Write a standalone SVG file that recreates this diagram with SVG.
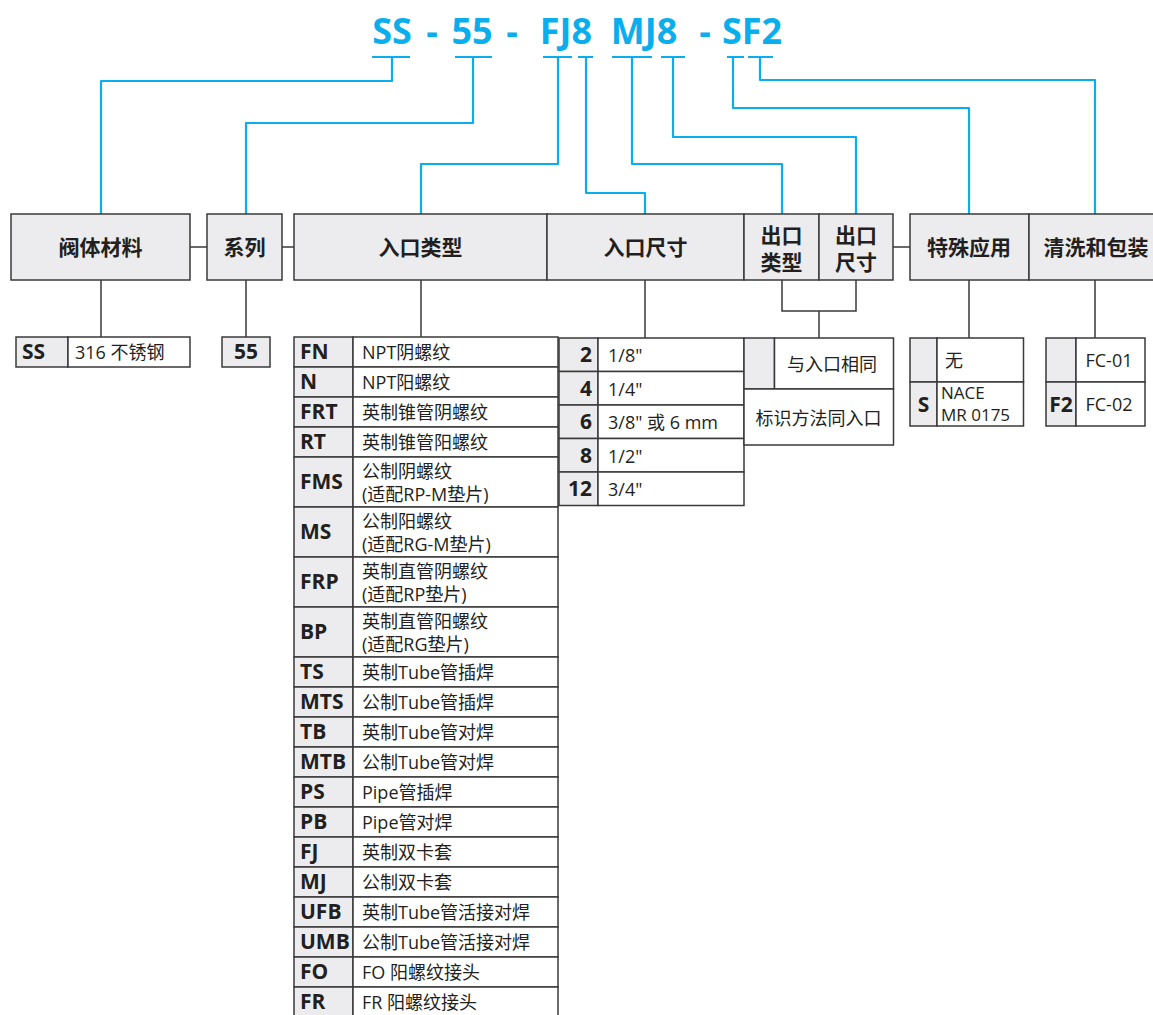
<svg xmlns="http://www.w3.org/2000/svg" width="1153" height="1015" viewBox="0 0 1153 1015">
<style>
.hdr{fill:#ECECEE;stroke:#3a3a3a;stroke-width:1.5}
.g{fill:#ECECEE;stroke:#3a3a3a;stroke-width:1.5}
.w{fill:#FFFFFF;stroke:#3a3a3a;stroke-width:1.5}
.ln{fill:none;stroke:#3a3a3a;stroke-width:1.5}
.bl{fill:none;stroke:#0AAEEC;stroke-width:2.2;stroke-linejoin:round}
.t{font-family:"Open Sans","Noto Sans CJK SC",sans-serif;fill:#0AAEEC;font-weight:bold;font-size:36px;text-anchor:middle}
.h{font-family:"Open Sans","Noto Sans CJK SC",sans-serif;fill:#231F20;font-weight:bold;font-size:21px;text-anchor:middle}
.c{font-family:"Open Sans","Noto Sans CJK SC",sans-serif;fill:#231F20;font-weight:bold;font-size:21px}
.d{font-family:"Open Sans","Noto Sans CJK SC",sans-serif;fill:#231F20;font-size:18px}
.s{font-size:17px}
.m{text-anchor:middle}
.e{text-anchor:end}
</style>
<rect width="1153" height="1015" fill="#FFFFFF"/>
<g id="title">
<text class="t" x="392" y="44">SS</text>
<text class="t" x="432" y="44">-</text>
<text class="t" x="472" y="44">55</text>
<text class="t" x="512" y="44">-</text>
<text class="t" x="566" y="44">FJ8</text>
<text class="t" x="644" y="44">MJ8</text>
<text class="t" x="705" y="44">-</text>
<text class="t" x="752" y="44">SF2</text>
</g>
<g id="connectors">
<path class="bl" d="M372 57H410M392 57V81H101V214"/>
<path class="bl" d="M455 57H492M473 57V123H246V214"/>
<path class="bl" d="M543 57H572M558 57V164H421V214"/>
<path class="bl" d="M578 57H593M586 57V193H645V214"/>
<path class="bl" d="M612 57H652M632 57V164H782V214"/>
<path class="bl" d="M661 57H685M673 57V137H856V214"/>
<path class="bl" d="M727 57H744M733 57V108H969V214"/>
<path class="bl" d="M748 57H773M760 57V80H1095V214"/>
<path class="ln" d="M190 247H207M282 247H294M893 247H910"/>
<path class="ln" d="M101 280V337M246 280V337M421 280V337M645 280V338"/>
<path class="ln" d="M782 280V311H856V280M819 311V338"/>
<path class="ln" d="M969 280V338M1095 280V338"/>
</g>
<g id="hdr-material"><rect class="hdr" x="11" y="214" width="179" height="66"/><text class="h" x="100.5" y="255">阀体材料</text></g>
<g id="hdr-series"><rect class="hdr" x="207" y="214" width="75" height="66"/><text class="h" x="244.5" y="255">系列</text></g>
<g id="hdr-inlet-type"><rect class="hdr" x="294" y="214" width="253" height="66"/><text class="h" x="420.5" y="255">入口类型</text></g>
<g id="hdr-inlet-size"><rect class="hdr" x="547" y="214" width="197" height="66"/><text class="h" x="645.5" y="255">入口尺寸</text></g>
<g id="hdr-outlet-type"><rect class="hdr" x="744" y="214" width="75" height="66"/><text class="h" x="781.5" y="243">出口</text><text class="h" x="781.5" y="270">类型</text></g>
<g id="hdr-outlet-size"><rect class="hdr" x="819" y="214" width="74" height="66"/><text class="h" x="856" y="243">出口</text><text class="h" x="856" y="270">尺寸</text></g>
<g id="hdr-special"><rect class="hdr" x="910" y="214" width="119" height="66"/><text class="h" x="969" y="255">特殊应用</text></g>
<g id="hdr-clean"><rect class="hdr" x="1029" y="214" width="126" height="66"/><text class="h" x="1096" y="255">清洗和包装</text></g>
<g id="tbl-material">
<rect class="g" x="16" y="337" width="52" height="30"/><rect class="w" x="68" y="337" width="122" height="30"/>
<text class="c" x="22" y="359">SS</text><text class="d" x="75" y="359">316 不锈钢</text>
</g>
<g id="tbl-series">
<rect class="g" x="222" y="337" width="48" height="30"/><text class="c m" x="246" y="359">55</text>
</g>
<g id="tbl-inlet-type">
<rect class="g" x="294" y="337" width="59" height="30"/><rect class="w" x="353" y="337" width="205" height="30"/><text class="c" x="300" y="359">FN</text><text class="d" x="362" y="359">NPT阴螺纹</text>
<rect class="g" x="294" y="367" width="59" height="30"/><rect class="w" x="353" y="367" width="205" height="30"/><text class="c" x="300" y="389">N</text><text class="d" x="362" y="389">NPT阳螺纹</text>
<rect class="g" x="294" y="397" width="59" height="30"/><rect class="w" x="353" y="397" width="205" height="30"/><text class="c" x="300" y="419">FRT</text><text class="d" x="362" y="419">英制锥管阴螺纹</text>
<rect class="g" x="294" y="427" width="59" height="30"/><rect class="w" x="353" y="427" width="205" height="30"/><text class="c" x="300" y="449">RT</text><text class="d" x="362" y="449">英制锥管阳螺纹</text>
<rect class="g" x="294" y="457" width="59" height="50"/><rect class="w" x="353" y="457" width="205" height="50"/><text class="c" x="300" y="489">FMS</text><text class="d" x="362" y="478">公制阴螺纹</text><text class="d" x="362" y="501">(适配RP-M垫片)</text>
<rect class="g" x="294" y="507" width="59" height="50"/><rect class="w" x="353" y="507" width="205" height="50"/><text class="c" x="300" y="539">MS</text><text class="d" x="362" y="528">公制阳螺纹</text><text class="d" x="362" y="551">(适配RG-M垫片)</text>
<rect class="g" x="294" y="557" width="59" height="50"/><rect class="w" x="353" y="557" width="205" height="50"/><text class="c" x="300" y="589">FRP</text><text class="d" x="362" y="578">英制直管阴螺纹</text><text class="d" x="362" y="601">(适配RP垫片)</text>
<rect class="g" x="294" y="607" width="59" height="50"/><rect class="w" x="353" y="607" width="205" height="50"/><text class="c" x="300" y="639">BP</text><text class="d" x="362" y="628">英制直管阳螺纹</text><text class="d" x="362" y="651">(适配RG垫片)</text>
<rect class="g" x="294" y="657" width="59" height="30"/><rect class="w" x="353" y="657" width="205" height="30"/><text class="c" x="300" y="679">TS</text><text class="d" x="362" y="679">英制Tube管插焊</text>
<rect class="g" x="294" y="687" width="59" height="30"/><rect class="w" x="353" y="687" width="205" height="30"/><text class="c" x="300" y="709">MTS</text><text class="d" x="362" y="709">公制Tube管插焊</text>
<rect class="g" x="294" y="717" width="59" height="30"/><rect class="w" x="353" y="717" width="205" height="30"/><text class="c" x="300" y="739">TB</text><text class="d" x="362" y="739">英制Tube管对焊</text>
<rect class="g" x="294" y="747" width="59" height="30"/><rect class="w" x="353" y="747" width="205" height="30"/><text class="c" x="300" y="769">MTB</text><text class="d" x="362" y="769">公制Tube管对焊</text>
<rect class="g" x="294" y="777" width="59" height="30"/><rect class="w" x="353" y="777" width="205" height="30"/><text class="c" x="300" y="799">PS</text><text class="d" x="362" y="799">Pipe管插焊</text>
<rect class="g" x="294" y="807" width="59" height="30"/><rect class="w" x="353" y="807" width="205" height="30"/><text class="c" x="300" y="829">PB</text><text class="d" x="362" y="829">Pipe管对焊</text>
<rect class="g" x="294" y="837" width="59" height="30"/><rect class="w" x="353" y="837" width="205" height="30"/><text class="c" x="300" y="859">FJ</text><text class="d" x="362" y="859">英制双卡套</text>
<rect class="g" x="294" y="867" width="59" height="30"/><rect class="w" x="353" y="867" width="205" height="30"/><text class="c" x="300" y="889">MJ</text><text class="d" x="362" y="889">公制双卡套</text>
<rect class="g" x="294" y="897" width="59" height="30"/><rect class="w" x="353" y="897" width="205" height="30"/><text class="c" x="300" y="919">UFB</text><text class="d" x="362" y="919">英制Tube管活接对焊</text>
<rect class="g" x="294" y="927" width="59" height="30"/><rect class="w" x="353" y="927" width="205" height="30"/><text class="c" x="300" y="949">UMB</text><text class="d" x="362" y="949">公制Tube管活接对焊</text>
<rect class="g" x="294" y="957" width="59" height="30"/><rect class="w" x="353" y="957" width="205" height="30"/><text class="c" x="300" y="979">FO</text><text class="d" x="362" y="979">FO 阳螺纹接头</text>
<rect class="g" x="294" y="987" width="59" height="30"/><rect class="w" x="353" y="987" width="205" height="30"/><text class="c" x="300" y="1009">FR</text><text class="d" x="362" y="1009">FR 阳螺纹接头</text>
</g>
<g id="tbl-inlet-size">
<rect class="g" x="559" y="338" width="39" height="33.5"/><rect class="w" x="598" y="338" width="146" height="33.5"/><text class="c e" x="592" y="362">2</text><text class="d" x="608" y="362">1/8"</text>
<rect class="g" x="559" y="371.5" width="39" height="33.5"/><rect class="w" x="598" y="371.5" width="146" height="33.5"/><text class="c e" x="592" y="395.5">4</text><text class="d" x="608" y="395.5">1/4"</text>
<rect class="g" x="559" y="405" width="39" height="33.5"/><rect class="w" x="598" y="405" width="146" height="33.5"/><text class="c e" x="592" y="429">6</text><text class="d" x="608" y="429">3/8" 或 6 mm</text>
<rect class="g" x="559" y="438.5" width="39" height="33.5"/><rect class="w" x="598" y="438.5" width="146" height="33.5"/><text class="c e" x="592" y="462.5">8</text><text class="d" x="608" y="462.5">1/2"</text>
<rect class="g" x="559" y="472" width="39" height="33.5"/><rect class="w" x="598" y="472" width="146" height="33.5"/><text class="c e" x="592" y="496">12</text><text class="d" x="608" y="496">3/4"</text>
</g>
<g id="tbl-outlet">
<rect class="g" x="744" y="338" width="30.5" height="51"/><rect class="w" x="774.5" y="338" width="119" height="51"/>
<rect class="w" x="744" y="389" width="149.5" height="56"/>
<text class="d m" x="832" y="371">与入口相同</text>
<text class="d m" x="818.5" y="425">标识方法同入口</text>
</g>
<g id="tbl-special">
<rect class="g" x="910" y="338" width="27" height="44"/><rect class="w" x="937" y="338" width="86.5" height="44"/>
<rect class="g" x="910" y="382" width="27" height="44"/><rect class="w" x="937" y="382" width="86.5" height="44"/>
<text class="d" x="945" y="367">无</text>
<text class="c m" x="923.5" y="412">S</text>
<text class="d s" x="941" y="399">NACE</text>
<text class="d s" x="941" y="421">MR 0175</text>
</g>
<g id="tbl-clean">
<rect class="g" x="1046" y="338" width="30" height="44"/><rect class="w" x="1076" y="338" width="69" height="44"/>
<rect class="g" x="1046" y="382" width="30" height="44"/><rect class="w" x="1076" y="382" width="69" height="44"/>
<text class="d m" x="1109" y="367">FC-01</text>
<text class="c m" x="1061" y="412">F2</text>
<text class="d m" x="1109" y="411">FC-02</text>
</g>
</svg>
